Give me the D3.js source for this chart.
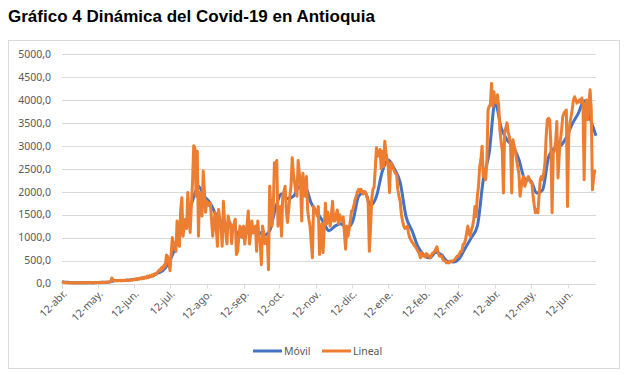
<!DOCTYPE html>
<html>
<head>
<meta charset="utf-8">
<script src="https://cdn.jsdelivr.net/npm/d3@7"></script>
<style>
  body { margin: 0; background: #fff; }
</style>
</head>
<body>
<svg id="chart" width="631" height="375"></svg>
<script>
// serie diaria desde el 12-abr-2020
const inicio = "2020-04-12";
const lineal = [
  45, 30, 25, 20, 15, 20, 10, 15, 20, 10,
  15, 10, 20, 15, 10, 15, 20, 10, 15, 20,
  10, 15, 20, 25, 15, 20, 10, 20, 25, 15,
  20, 25, 15, 20, 30, 25, 20, 30, 25, 35,
  30, 40, 120, 90, 60, 70, 55, 65, 60, 70,
  55, 70, 60, 75, 65, 80, 60, 75, 85, 70,
  90, 80, 100, 85, 110, 95, 120, 100, 130, 110,
  140, 120, 160, 130, 170, 150, 190, 160, 210, 200,
  230, 260, 300, 280, 350, 320, 400, 380, 620, 590,
  450, 280, 650, 1000, 750, 890, 700, 1360, 1140, 810,
  1600, 1870, 1030, 1250, 1400, 1200, 1980, 1500, 1110, 1700,
  2200, 3000, 2950, 1900, 2880, 1030, 1980, 1700, 1470, 2450,
  2000, 1550, 1790, 1750, 1700, 1750, 1400, 1030, 1300, 1550,
  1200, 810, 1610, 1400, 1250, 810, 1790, 1360, 1100, 863,
  1470, 1350, 1300, 870, 1250, 1300, 1400, 630, 700, 1000,
  1250, 1100, 1000, 1250, 860, 1100, 1300, 1580, 860, 1100,
  1360, 1100, 1200, 1250, 700, 1360, 1000, 900, 410, 1250,
  1100, 870, 950, 1000, 300, 2120, 1700, 1250, 1600, 2630,
  2600, 2680, 1250, 1500, 1680, 1030, 1900, 2000, 2120, 1600,
  1330, 1600, 1900, 2120, 2740, 2400, 2200, 2000, 1900, 2680,
  2400, 2200, 1360, 2400, 2100, 1900, 2330, 1600, 1400, 1250,
  900, 560, 1680, 1600, 1580, 1470, 1680, 630, 1000, 1300,
  670, 1200, 1750, 1300, 1550, 1400, 1250, 1500, 1790, 1360,
  1360, 1500, 1600, 1300, 1500, 1400, 1360, 1450, 1100, 748,
  1250, 1030, 1200, 1360, 1580, 1600, 1700, 1830, 1900, 2000,
  2050, 2000, 2050, 2000, 1950, 2000, 1980, 1900, 1750, 700,
  1200, 1830, 2050, 2100, 2500, 2960, 2770, 2800, 2920, 2500,
  2880, 2550, 3100, 2850, 2700, 2520, 1980, 2630, 2600, 2520,
  2450, 2400, 2370, 2050, 1900, 1790, 1500, 1360, 1250, 1200,
  1220, 1250, 1100, 1000, 950, 900, 870, 820, 800, 750,
  700, 650, 560, 670, 600, 620, 580, 650, 630, 600,
  560, 600, 650, 670, 700, 750, 800, 670, 600, 595,
  600, 520, 500, 490, 450, 460, 450, 490, 480, 490,
  500, 520, 560, 595, 600, 650, 700, 700, 850, 870,
  950, 1100, 1250, 1100, 1030, 1170, 1250, 1400, 1680, 1460,
  1900, 2120, 2550, 2700, 2990, 2330, 2480, 2260, 2620, 3780,
  3860, 3900, 4360, 3860, 4180, 3950, 3930, 4110, 3860, 3350,
  3100, 2900, 1970, 3280, 3390, 3500, 3300, 3200, 2990, 1970,
  3130, 3000, 2900, 2700, 2550, 2400, 1900, 2100, 2260, 2330,
  2120, 2200, 2260, 2330, 2260, 2200, 2190, 1900, 1700, 1540,
  1610, 1540, 1900, 2260, 2330, 2260, 2400, 2620, 3200, 3570,
  3600, 3570, 3000, 1540, 2840, 2900, 3100, 3530, 2300, 2800,
  3130, 3350, 3640, 3710, 3750, 3780, 1680, 3200, 3500, 3640,
  3800, 4000, 4070, 4000, 3930, 3960, 4000, 3950, 4040, 3930,
  2260, 3800, 4000, 3570, 3900, 4220, 3780, 2040, 2300, 2480
];
// media móvil leída cada 5 días desde la misma fecha
const pasoMovil = 5;
const movil = [
  40, 25, 15, 15, 15, 18, 20, 25, 35, 65,
  65, 70, 85, 105, 130, 160, 215, 280, 450, 750,
  1100, 1350, 1800, 2120, 1900, 1750, 1480, 1330, 1260, 1200,
  1030, 1080, 1230, 1150, 1050, 1150, 1650, 1950, 1850, 1900,
  2100, 2100, 1750, 1550, 1350, 1150, 1250, 1300, 1200, 1360,
  1900, 2000, 1700, 1900, 2450, 2690, 2500, 2200, 1450, 1150,
  800, 620, 560, 680, 620, 480, 470, 550, 780, 1000,
  1250, 2260, 2850, 3950, 3400, 3130, 2990, 2700, 2280, 2240,
  1970, 2040, 2750, 2950, 3000, 3180, 3480, 3700, 3980, 3600,
  3220
];
const fechasX = ["2020-04-12", "2020-05-12", "2020-06-12", "2020-07-12", "2020-08-12",
  "2020-09-12", "2020-10-12", "2020-11-12", "2020-12-12", "2021-01-12", "2021-02-12",
  "2021-03-12", "2021-04-12", "2021-05-12", "2021-06-12"];
const etiquetasX = ["12-abr.", "12-may.", "12-jun.", "12-jul.", "12-ago.", "12-sep.",
  "12-oct.", "12-nov.", "12-dic.", "12-ene.", "12-feb.", "12-mar.", "12-abr.",
  "12-may.", "12-jun."];
const ticksY = [0, 500, 1000, 1500, 2000, 2500, 3000, 3500, 4000, 4500, 5000];
const series = ["Móvil", "Lineal"];

const parse = d3.utcParse("%Y-%m-%d");
const t0 = parse(inicio);
const dLineal = lineal.map((v, i) => ({date: d3.utcDay.offset(t0, i), value: v}));
const dMovil = movil.map((v, i) => ({date: d3.utcDay.offset(t0, i * pasoMovil), value: v}));

const svg = d3.select("#chart");
const grey = "#595959", gridc = "#d9d9d9";
const color = d3.scaleOrdinal(series, ["#4472C4", "#ED7D31"]);
const fmt = d3.formatLocale({decimal: ",", thousands: ".", grouping: [3], currency: ["", ""]}).format(".1f");

// marco del gráfico
svg.append("rect")
    .attr("x", 8.5).attr("y", 40.5)
    .attr("width", 611).attr("height", 328)
    .attr("fill", "#fff").attr("stroke", gridc);

svg.append("text")
    .attr("x", 8).attr("y", 22)
    .attr("font-family", "'Liberation Sans Narrow', 'Liberation Sans', Arial, sans-serif")
    .attr("font-weight", "bold")
    .attr("font-size", 17)
    .attr("fill", "#000")
    .text("Gráfico 4 Dinámica del Covid-19 en Antioquia");

const x = d3.scaleUtc()
    .domain([t0, d3.utcDay.offset(t0, 450)])
    .range([62, 596]);
const y = d3.scaleLinear().domain([0, 5000]).range([283.5, 54]);

// rejilla
svg.append("g")
  .selectAll("line")
  .data(ticksY.filter(d => d > 0))
  .join("line")
    .attr("x1", 62).attr("x2", 596)
    .attr("y1", d => Math.round(y(d)) + 0.5).attr("y2", d => Math.round(y(d)) + 0.5)
    .attr("stroke", gridc);

svg.append("g")
    .attr("font-family", "'Noto Sans', sans-serif")
    .attr("font-size", 10.5)
    .attr("fill", grey)
    .attr("text-anchor", "end")
  .selectAll("text")
  .data(ticksY)
  .join("text")
    .attr("x", 51)
    .attr("y", d => y(d) + 3.8)
    .text(d => fmt(d));

// eje x
const gx = svg.append("g");
gx.append("line")
    .attr("x1", 62).attr("x2", 596)
    .attr("y1", 284.5).attr("y2", 284.5)
    .attr("stroke", gridc);
const tk = gx.selectAll("g")
  .data(fechasX.map((f, i) => ({date: parse(f), label: etiquetasX[i]})))
  .join("g")
    .attr("transform", d => `translate(${Math.round(x(d.date)) + 0.5},284.5)`);
tk.append("line").attr("y2", 4).attr("stroke", gridc);
tk.append("text")
    .attr("transform", "translate(5,10) rotate(-45)")
    .attr("text-anchor", "end")
    .attr("font-family", "'Noto Sans', sans-serif")
    .attr("font-size", 10.5)
    .attr("fill", grey)
    .text(d => d.label);

const line = d3.line().x(d => x(d.date)).y(d => y(d.value));

svg.append("path")
    .datum(dMovil)
    .attr("fill", "none")
    .attr("stroke", color("Móvil"))
    .attr("stroke-width", 3)
    .attr("stroke-linejoin", "round")
    .attr("d", line.curve(d3.curveMonotoneX));

svg.append("path")
    .datum(dLineal)
    .attr("fill", "none")
    .attr("stroke", color("Lineal"))
    .attr("stroke-width", 3)
    .attr("stroke-linejoin", "round")
    .attr("d", line.curve(d3.curveLinear));

// leyenda
const lg = svg.append("g")
    .attr("font-family", "'Noto Sans', sans-serif")
    .attr("font-size", 10.5)
    .attr("fill", grey)
  .selectAll("g")
  .data(series)
  .join("g")
    .attr("transform", (d, i) => `translate(${253 + i * 69},351)`);
lg.append("line").attr("x2", 29).attr("stroke", d => color(d)).attr("stroke-width", 3);
lg.append("text").attr("x", 31).attr("y", 3.8).text(d => d);
</script>
</body>
</html>
